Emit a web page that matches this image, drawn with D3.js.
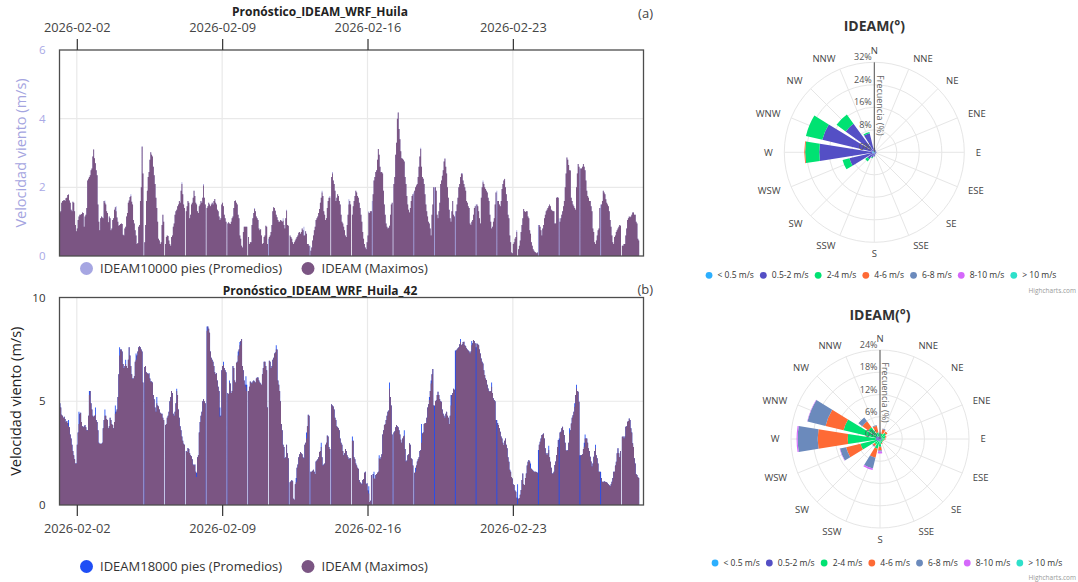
<!DOCTYPE html>
<html><head><meta charset="utf-8">
<script src="https://cdn.jsdelivr.net/npm/d3@7/dist/d3.min.js"></script>
<style>
html,body{margin:0;padding:0;background:#fff;}
svg{display:block;font-family:"Open Sans",sans-serif;}
</style></head><body>
<svg id="chart" width="1078" height="582"></svg>
<script>
// ---------------- DATA ----------------
// hourly values from 2026-02-01 04:00, one row per day (24 h), null = missing hour
const tickLabels = ["2026-02-02","2026-02-09","2026-02-16","2026-02-23"];
const seriesNamesA = ["IDEAM10000 pies (Promedios)","IDEAM (Maximos)"];
const seriesNamesB = ["IDEAM18000 pies (Promedios)","IDEAM (Maximos)"];
const titleA = "Pronóstico_IDEAM_WRF_Huila";
const titleB = "Pronóstico_IDEAM_WRF_Huila_42";

const maxA = [
[1.27,1.3,1.55,1.6,1.62,1.63,1.6,1.68,1.7,1.78,1.79,1.62,1.55,1.35,1.3,1.58,1.55,1.3,0.9,0.72,0.8,1.05,1.15,1.2],
[1.2,1.22,1.27,1.25,0.85,1.15,1.2,1.4,2.2,2.25,2.3,2.35,2.5,2.55,2.9,3.1,2.85,2.7,2.5,2.35,1.5,1.0,0.75,1.1],
[1.15,1.12,1.1,1.6,1.55,1.5,1.3,1.25,0.98,1.15,1.1,0.75,0.8,1.05,1.1,1.35,1.42,1.3,1.12,1.0,0.88,0.9,0.93,0.95],
[0.93,0.62,0.6,0.8,0.85,1.15,1.25,1.55,1.62,1.72,1.75,1.58,1.5,1.05,0.95,0.75,0.6,0.35,0.38,0.85,0.9,1.6,2.0,3.18],
[2.4,null,0.4,0.9,1.6,1.9,2.3,2.45,2.8,3.02,2.95,2.9,2.6,2.35,2.1,1.7,1.4,1.0,0.5,0.45,0.35,0.4,0.9,1.2],
[1.0,null,0.35,0.55,0.6,0.58,0.45,0.35,0.3,0.55,0.6,0.85,0.95,1.2,1.3,1.35,1.45,1.5,1.6,1.55,1.9,2.1,1.8,1.5],
[1.4,null,1.3,1.45,1.6,1.55,1.1,1.2,1.5,1.55,1.7,1.9,1.75,1.55,1.5,1.3,1.25,1.45,1.5,1.6,1.55,1.7,2.05,1.7],
[1.5,null,1.4,1.45,1.55,1.5,1.45,1.5,1.55,1.5,1.6,1.66,1.55,1.5,1.35,1.3,1.15,1.05,1.1,1.5,1.55,1.45,1.2,1.1],
[1.0,null,0.95,0.98,0.95,0.93,1.0,1.1,1.15,1.4,1.6,1.62,1.55,1.5,1.2,1.1,0.6,0.5,0.3,0.25,0.7,0.85,0.85,0.85],
[0.85,null,0.55,0.35,0.4,0.4,0.9,1.1,1.25,1.37,1.3,1.15,1.1,1.05,0.8,0.75,0.78,0.6,0.35,0.38,0.55,0.6,0.88,0.85],
[0.35,null,0.55,0.6,0.7,0.9,1.3,1.42,1.4,1.32,1.2,1.13,1.05,1.0,1.0,1.05,1.03,1.0,1.03,0.9,0.8,1.1,1.32,0.9],
[0.88,null,0.6,0.55,0.5,0.4,0.35,0.4,0.45,0.5,0.55,0.6,0.68,0.7,0.65,0.7,0.8,0.75,0.6,0.6,0.72,0.65,0.35,0.35],
[0.3,null,0.15,0.25,0.45,0.6,0.75,0.85,1.05,1.1,1.15,1.25,1.37,1.55,1.7,1.85,1.75,1.3,1.2,1.05,1.1,1.4,1.6,1.7],
[1.7,null,2.3,2.4,2.2,2.1,1.9,1.6,1.7,1.8,1.75,1.6,1.5,1.2,1.0,0.95,0.85,0.75,0.6,0.55,0.9,1.2,1.5,1.6],
[1.5,null,1.2,1.45,1.6,1.75,1.9,1.85,1.75,1.7,1.55,1.4,1.2,1.0,0.7,0.5,0.35,0.25,0.2,0.4,0.6,1.27,1.25,1.3],
[1.3,null,1.8,2.2,2.3,2.45,2.5,2.8,3.12,2.95,2.6,2.44,2.45,2.4,1.9,1.5,1.2,0.95,0.85,0.8,0.82,0.88,1.2,1.5],
[1.55,null,2.1,2.3,2.95,3.3,4.0,4.18,3.7,3.4,3.05,2.85,2.83,2.8,2.75,2.3,2.1,1.75,1.5,1.35,1.27,1.4,1.6,1.75],
[1.8,null,1.9,2.0,2.05,2.1,2.3,2.6,2.9,3.12,2.6,2.3,2.25,2.1,1.8,1.5,1.3,1.15,1.0,0.95,0.8,0.6,1.2,1.5],
[2.0,null,2.0,1.9,1.2,1.1,1.3,1.55,2.1,2.2,2.34,2.5,2.75,2.83,2.6,2.4,2.0,1.7,1.35,1.1,1.0,1.3,1.6,1.2],
[1.15,null,1.3,1.5,1.7,2.0,2.1,2.3,2.4,2.38,2.2,2.1,2.0,1.9,1.6,1.55,1.45,1.4,0.95,0.9,1.0,1.05,1.2,1.4],
[1.45,null,1.5,1.45,1.3,1.1,0.95,1.7,2.0,2.15,2.1,2.0,1.95,1.9,1.85,1.7,1.6,1.2,1.0,0.8,0.85,1.0,1.1,1.5],
[1.85,null,1.6,1.6,1.5,1.45,1.6,1.95,2.1,2.2,2.24,2.0,1.8,1.6,1.2,1.1,0.6,0.4,0.1,0.08,0.35,0.4,0.5,0.55],
[0.7,null,0.2,0.3,0.45,0.7,0.9,1.1,1.37,1.3,1.28,1.3,1.3,1.15,1.1,0.75,0.65,0.4,0.3,0.2,0.15,0.12,0.1,0.08],
[0.1,null,0.9,0.85,0.75,0.6,0.8,0.9,1.1,1.2,1.3,1.35,1.4,1.45,1.5,1.45,1.35,1.32,1.3,1.3,0.95,0.95,1.7,1.71],
[1.7,null,1.0,1.1,1.2,1.3,1.45,1.6,2.0,2.4,2.87,2.8,2.65,2.5,2.49,1.7,1.6,1.5,1.45,1.4,1.35,2.0,2.4,2.68],
[2.6,null,2.55,2.55,2.6,2.68,2.6,2.5,2.2,1.9,1.75,1.7,1.6,1.6,1.45,1.3,0.8,0.7,0.4,0.35,0.45,0.6,0.75,0.8],
[1.4,null,1.5,1.6,1.9,1.85,1.8,1.65,1.55,1.5,1.45,1.3,1.05,0.85,0.6,0.4,0.35,0.55,0.6,0.7,0.75,0.8,0.85,0.9],
[0.88,null,0.3,0.3,0.35,0.35,0.6,0.8,1.05,1.1,1.15,1.13,1.15,1.2,1.27,1.27,1.2,1.2,1.0,0.95,0.5,0.45]
];
const promA = [
[1.27,1.3,1.55,1.6,1.62,1.63,1.6,1.68,1.7,1.78,1.79,1.62,1.55,1.35,1.3,1.58,1.55,1.3,0.9,0.72,0.8,1.05,1.15,1.2],
[1.2,1.22,1.27,1.25,0.85,1.15,1.2,1.4,2.2,2.25,2.3,2.35,2.5,2.55,2.9,3.1,2.85,2.7,2.5,2.35,1.5,1.0,0.75,1.1],
[1.15,1.12,1.1,1.6,1.62,1.5,1.3,1.25,0.98,1.15,1.1,0.75,0.8,1.05,1.1,1.35,1.42,1.45,1.12,1.0,0.88,0.9,0.93,0.95],
[0.93,0.62,0.6,0.8,0.85,1.15,1.25,1.55,1.62,1.72,1.8,1.58,1.5,1.05,0.95,0.75,0.6,0.35,0.38,0.85,0.9,1.6,2.0,3.2],
[2.4,null,0.4,0.9,1.6,1.9,2.3,2.45,2.8,3.02,2.95,2.9,2.6,2.35,2.1,1.7,1.4,1.0,0.5,0.45,0.35,0.4,0.9,1.2],
[1.0,null,0.35,0.55,0.6,0.58,0.45,0.35,0.3,0.55,0.6,0.85,0.95,1.2,1.3,1.35,1.45,1.5,1.6,1.55,1.9,2.15,1.8,1.5],
[1.4,null,1.3,1.45,1.6,1.55,1.1,1.2,1.5,1.55,1.7,1.9,1.75,1.55,1.5,1.3,1.25,1.45,1.5,1.6,1.55,1.7,2.1,1.7],
[1.5,null,1.4,1.45,1.55,1.5,1.45,1.5,1.55,1.5,1.6,1.66,1.55,1.5,1.35,1.3,1.15,1.05,1.1,1.5,1.55,1.45,1.2,1.1],
[1.0,null,0.95,0.98,0.95,0.93,1.0,1.1,1.15,1.4,1.6,1.62,1.55,1.5,1.2,1.1,0.6,0.5,0.3,0.25,0.7,0.85,0.85,0.85],
[0.85,null,0.55,0.35,0.4,0.4,0.9,1.1,1.25,1.4,1.3,1.15,1.1,1.05,0.8,0.75,0.78,0.6,0.35,0.38,0.55,0.6,0.88,0.85],
[0.35,0.5,0.55,0.6,0.7,0.9,1.3,1.42,1.4,1.32,1.2,1.13,1.05,1.0,1.0,1.05,1.03,1.0,1.1,0.9,0.8,1.1,1.35,0.9],
[0.88,null,0.6,0.55,0.5,0.4,0.35,0.4,0.45,0.5,0.55,0.6,0.68,0.7,0.65,0.7,0.8,0.75,0.85,0.6,0.72,0.65,0.35,0.35],
[0.3,0.3,0.15,0.25,0.45,0.6,0.75,0.85,1.05,1.1,1.15,1.25,1.37,1.55,1.7,1.9,1.75,1.3,1.2,1.05,1.1,1.4,1.6,1.7],
[1.75,null,2.3,2.45,2.2,2.1,1.9,1.6,1.7,1.8,1.75,1.6,1.5,1.2,1.0,0.95,0.85,0.75,0.6,0.55,0.9,1.2,1.65,1.6],
[1.5,null,1.2,1.45,1.6,1.75,1.9,1.85,1.75,1.7,1.55,1.4,1.2,1.0,0.7,0.5,0.35,0.25,0.2,0.4,0.6,1.3,1.25,1.3],
[1.3,1.6,1.8,2.2,2.3,2.45,2.5,2.8,3.12,2.95,2.6,2.44,2.45,2.4,1.9,1.5,1.2,0.95,0.85,0.8,0.82,0.88,1.2,1.5],
[1.55,null,2.1,2.3,2.95,3.3,4.0,4.18,3.7,3.4,3.05,2.85,2.83,2.8,2.75,2.3,2.1,1.75,1.5,1.35,1.27,1.4,1.6,1.75],
[1.8,1.85,1.9,2.0,2.05,2.1,2.3,2.6,2.9,3.15,2.6,2.3,2.25,2.1,1.8,1.5,1.3,1.15,1.0,0.95,0.8,0.6,1.2,1.5],
[2.0,2.0,2.0,1.9,1.2,1.1,1.3,1.55,2.1,2.2,2.34,2.5,2.75,2.85,2.6,2.4,2.0,1.7,1.35,1.1,1.0,1.3,1.6,1.2],
[1.15,1.3,1.3,1.5,1.7,2.0,2.1,2.3,2.4,2.42,2.2,2.1,2.0,1.9,1.6,1.55,1.45,1.4,0.95,0.9,1.0,1.05,1.2,1.4],
[1.45,1.5,1.5,1.45,1.3,1.1,0.95,1.7,2.0,2.2,2.1,2.0,1.95,1.9,1.85,1.7,1.6,1.2,1.0,0.8,0.85,1.0,1.1,1.5],
[1.85,1.9,1.6,1.6,1.5,1.45,1.6,1.95,2.1,2.2,2.25,2.0,1.8,1.6,1.2,1.1,0.6,0.4,0.1,0.08,0.35,0.4,0.5,0.55],
[0.75,null,0.2,0.3,0.45,0.7,0.9,1.1,1.37,1.3,1.28,1.3,1.3,1.15,1.1,0.75,0.65,0.4,0.3,0.2,0.15,0.12,0.1,0.08],
[0.1,0.9,0.9,0.85,0.75,0.6,0.8,0.9,1.1,1.2,1.3,1.35,1.4,1.45,1.5,1.45,1.35,1.32,1.3,1.3,0.95,0.95,1.7,1.71],
[1.7,1.1,1.0,1.1,1.2,1.3,1.45,1.6,2.0,2.4,2.87,2.8,2.65,2.5,2.49,1.7,1.6,1.5,1.45,1.4,1.35,2.0,2.4,2.68],
[2.6,2.55,2.55,2.55,2.6,2.68,2.6,2.5,2.2,1.9,1.75,1.7,1.6,1.6,1.45,1.3,0.8,0.7,0.4,0.35,0.45,0.6,0.75,0.8],
[1.4,1.5,1.5,1.6,1.9,1.85,1.8,1.65,1.55,1.5,1.45,1.3,1.05,0.85,0.6,0.4,0.35,0.55,0.6,0.7,0.75,0.8,0.85,0.9],
[0.88,null,0.3,0.3,0.35,0.35,0.6,0.8,1.05,1.1,1.15,1.13,1.15,1.2,1.27,1.27,1.2,1.2,1.0,0.95,0.5,0.45]
];
const maxB = [
[4.9,4.7,4.35,4.3,4.2,4.25,4.15,4.0,4.05,3.95,3.8,3.75,3.4,3.2,2.9,2.6,2.4,2.2,2.0,2.0,2.9,3.5,3.9,4.4],
[4.45,4.0,3.8,3.75,3.8,3.85,3.75,3.6,3.6,4.3,5.3,5.5,4.9,4.6,4.3,4.25,4.3,4.35,4.1,4.0,3.6,3.0,2.95,2.95],
[2.95,3.0,3.7,4.1,4.3,4.3,4.15,4.1,3.7,3.8,4.2,4.1,3.9,3.85,3.7,4.0,4.4,4.5,4.6,5.2,6.3,7.2,7.5,7.5],
[7.4,6.8,6.6,6.7,6.8,6.7,6.6,7.0,7.6,7.2,6.7,6.3,6.1,6.1,6.2,6.9,7.0,7.2,7.4,7.6,7.65,7.6,7.5,7.4],
[5.9,null,6.65,6.7,6.4,6.35,6.3,6.35,6.1,5.95,5.95,5.9,5.3,5.1,4.7,4.5,4.9,4.8,4.75,4.6,4.45,4.4,4.4,4.2],
[4.1,null,3.85,3.9,4.2,4.3,4.5,5.0,5.2,5.5,5.4,4.4,4.3,4.5,4.9,5.5,5.3,4.6,4.2,3.8,3.6,3.3,3.1,2.95],
[2.9,null,2.6,2.55,2.75,2.7,2.5,2.4,2.35,2.2,1.95,1.9,1.95,1.6,1.35,2.3,2.4,3.5,4.0,4.3,4.5,5.0,5.1,5.0],
[4.9,null,8.4,8.6,8.5,8.3,7.4,7.1,7.0,6.9,6.7,6.4,6.3,6.35,6.0,5.7,5.5,4.25,4.3,6.5,6.7,6.75,6.6,6.5],
[6.4,null,5.4,5.35,5.9,5.85,5.4,5.5,6.7,6.6,6.0,5.9,6.85,6.9,7.2,7.5,7.7,7.9,8.0,6.7,6.5,6.0,5.8,5.7],
[5.5,null,5.5,5.7,5.95,5.9,5.85,5.95,6.0,5.95,5.9,6.1,6.15,6.15,6.0,5.9,5.85,5.8,6.3,6.6,6.9,6.9,6.7,6.5],
[4.7,null,6.95,6.9,6.6,6.7,7.0,7.1,7.3,7.35,7.5,7.5,6.0,5.8,5.5,5.0,3.9,3.6,2.9,2.8,2.25,2.3,2.9,2.5],
[2.25,null,1.1,1.15,1.2,1.15,0.3,0.25,1.0,1.1,1.8,1.95,2.3,2.45,2.55,2.5,2.45,2.3,2.25,2.9,3.0,3.2,3.8,4.35],
[4.3,null,1.6,1.6,1.65,1.7,1.6,1.5,2.1,2.15,2.2,2.3,2.55,2.6,2.8,2.3,1.9,1.95,2.0,2.9,3.0,3.35,3.3,2.8],
[2.7,null,4.85,4.8,4.75,4.6,4.2,4.1,3.8,3.75,3.7,3.6,3.2,3.0,2.9,2.6,2.4,2.5,2.7,2.6,2.4,2.3,2.2,2.25],
[2.25,null,3.1,3.1,2.3,2.2,2.0,1.9,1.8,1.75,1.2,1.1,1.05,1.0,1.2,1.25,1.55,1.6,1.0,1.05,0.7,0.55,0.15,0.2],
[1.45,null,1.5,1.3,1.25,1.45,1.5,1.55,1.6,2.25,2.2,2.3,2.45,3.4,3.6,3.85,3.9,4.1,4.3,4.5,4.55,5.6,5.2,4.8],
[3.4,null,3.5,3.55,3.75,3.85,3.8,3.75,3.6,3.4,3.15,3.0,3.2,3.3,3.35,2.7,2.1,2.15,2.4,2.45,2.97,2.9,2.25,2.2],
[1.9,null,1.55,1.6,1.9,2.1,2.2,2.3,2.6,2.65,3.0,3.45,3.5,3.9,3.95,3.95,4.2,4.7,4.85,5.06,5.5,5.86,6.3,6.55],
[4.8,null,5.0,5.05,5.3,5.46,5.3,5.1,5.0,4.98,4.6,4.4,4.3,4.2,4.4,4.5,4.3,4.2,3.9,4.3,4.8,5.3,5.4,5.6],
[5.55,null,7.45,7.5,7.55,7.6,7.75,7.87,7.7,7.75,7.85,7.87,7.7,7.65,7.55,7.5,7.45,7.4,7.3,7.4,7.7,7.8,7.95,7.9],
[7.8,null,7.78,7.75,7.7,7.5,7.3,7.06,6.9,6.82,6.5,6.26,6.1,6.02,5.8,5.62,5.5,5.46,5.5,5.7,5.4,5.14,5.06,5.0],
[4.1,null,3.95,3.85,3.7,3.53,3.3,3.21,3.0,2.89,3.1,3.21,2.9,2.73,2.3,2.09,1.7,1.6,1.35,1.28,1.0,0.96,0.7,0.64],
[0.35,null,0.3,0.32,0.5,0.72,1.2,1.52,1.0,0.96,1.3,1.52,1.9,2.09,2.17,2.1,1.77,1.75,1.7,1.65,1.6,1.6,1.6,1.58],
[1.55,null,2.9,3.05,3.2,3.37,3.4,3.45,3.2,2.73,2.5,2.41,2.5,2.65,2.3,2.09,1.8,1.52,1.52,1.6,1.93,2.1,2.41,2.8],
[3.13,null,3.5,3.53,3.7,3.77,3.6,3.37,3.0,2.65,2.6,2.65,3.0,3.45,3.6,3.93,4.2,4.33,4.5,4.73,5.3,5.62,5.5,5.46],
[4.98,null,2.4,2.41,2.45,2.7,2.81,3.2,3.21,3.2,3.0,2.73,2.6,2.33,2.1,1.85,2.0,2.33,2.6,2.73,2.4,2.25,2.0,1.6],
[1.6,null,1.3,1.12,1.1,1.15,1.12,1.1,1.1,1.05,1.0,0.95,0.9,1.0,1.12,1.3,1.6,1.6,1.9,2.09,2.5,2.73,2.5,2.3],
[2.6,null,3.29,3.3,3.2,3.3,3.77,3.8,4.01,4.05,4.17,4.1,3.7,3.5,2.97,2.8,2.25,2.0,1.5,1.45,1.35,1.3]
];
const promB = [
[4.9,4.7,4.35,4.3,4.2,4.25,4.15,4.0,4.05,3.95,4.1,3.75,3.4,3.2,2.9,2.6,2.4,2.2,2.0,2.0,2.9,3.5,4.5,4.4],
[4.45,4.0,3.8,3.75,3.8,3.85,3.75,3.6,3.6,4.3,5.5,5.5,4.9,4.6,4.3,4.25,4.3,4.7,4.1,4.0,3.6,3.0,2.95,2.95],
[2.95,3.0,3.7,4.1,4.6,4.3,4.15,4.1,3.7,3.8,4.2,4.1,3.9,3.85,3.7,4.0,4.8,4.5,4.6,5.2,6.3,7.6,7.5,7.5],
[7.4,6.8,6.6,6.7,7.0,6.7,6.6,7.0,7.6,7.2,6.7,6.3,6.1,6.1,6.2,6.9,7.3,7.2,7.4,7.6,7.65,7.6,7.5,7.4],
[5.9,null,6.65,6.7,6.4,6.35,6.3,6.35,6.1,5.95,5.95,5.9,5.3,5.1,4.7,4.5,5.2,4.8,4.75,4.6,4.45,4.4,4.4,4.2],
[4.1,null,3.85,3.9,4.2,4.3,4.5,5.0,5.2,5.5,5.4,4.4,4.3,4.5,4.9,5.6,5.3,4.6,4.2,3.8,3.6,3.3,3.1,2.95],
[2.9,null,2.6,2.55,2.75,2.7,2.5,2.4,2.35,2.2,1.95,1.9,1.95,1.6,1.55,2.3,2.4,3.5,4.0,4.3,4.5,5.0,5.1,5.0],
[4.9,null,8.6,8.6,8.5,8.3,7.4,7.1,7.0,6.9,6.7,6.4,6.3,6.35,6.0,5.7,5.5,4.7,4.3,6.5,6.7,6.9,6.6,6.5],
[6.4,null,5.4,5.35,6.0,5.85,5.4,5.5,6.7,6.6,6.0,5.9,6.85,6.9,7.4,7.5,7.85,7.9,8.0,6.7,6.5,6.0,5.8,6.2],
[5.8,null,5.5,5.7,5.95,5.9,5.85,5.95,6.0,5.95,5.9,6.1,6.15,6.15,6.0,5.9,5.85,5.8,6.3,6.6,6.9,6.9,6.7,6.5],
[4.7,null,6.95,6.9,6.6,6.7,7.0,7.1,7.3,7.35,7.7,7.5,6.0,5.8,5.5,5.0,3.9,3.6,2.9,2.8,2.25,2.3,2.9,2.5],
[2.25,null,1.1,1.15,1.2,1.15,0.3,0.25,1.0,1.3,1.8,1.95,2.3,2.45,2.55,2.5,2.45,2.3,2.25,2.9,3.0,3.5,3.8,4.35],
[4.3,null,1.6,1.6,1.65,1.7,1.6,1.5,2.1,2.15,2.2,2.3,2.55,2.6,3.0,2.3,1.9,1.95,2.0,2.9,3.0,3.35,3.3,2.8],
[2.7,null,4.85,4.8,4.75,4.6,4.2,4.1,3.8,3.75,3.7,3.6,3.2,3.0,2.9,2.6,2.4,2.5,2.7,2.6,2.4,2.3,2.2,2.25],
[2.25,null,3.3,3.1,2.3,2.2,2.0,1.9,1.8,1.75,1.2,1.1,1.05,1.0,1.2,1.25,1.55,1.6,1.0,1.05,0.7,0.9,0.15,0.2],
[1.45,null,1.5,1.6,1.25,1.45,1.5,1.55,1.6,2.4,2.2,2.3,2.45,3.4,3.6,3.85,3.9,4.1,4.3,4.5,4.55,5.9,5.2,4.8],
[3.4,null,3.5,3.55,3.75,3.85,3.8,3.75,3.6,3.4,3.15,3.0,3.2,3.3,3.6,2.7,2.1,2.15,2.4,2.45,2.97,2.9,2.25,2.2],
[1.9,null,1.55,1.8,1.9,2.1,2.2,2.3,2.6,2.65,3.9,3.45,3.5,3.9,3.95,3.95,4.2,4.7,4.85,5.2,5.5,6.0,6.3,6.55],
[4.8,4.8,5.0,5.05,5.3,5.46,5.3,5.1,5.0,4.98,4.6,4.4,4.3,4.2,4.4,4.5,4.3,4.2,3.9,4.3,5.3,5.3,5.4,5.6],
[5.55,7.45,7.45,7.5,7.55,7.6,7.75,8.0,7.7,7.75,7.85,7.87,7.7,7.65,7.55,7.5,7.45,7.4,7.3,7.4,7.9,7.8,7.95,7.9],
[7.8,7.6,7.78,7.75,7.7,7.5,7.3,7.06,6.9,6.82,6.5,6.26,6.1,6.02,5.8,5.62,5.5,5.46,5.5,5.9,5.4,5.14,5.06,5.0],
[4.1,4.1,3.95,3.85,3.7,3.53,3.3,3.21,3.0,2.89,3.1,3.21,2.9,2.73,2.3,2.09,1.7,1.6,1.35,1.28,1.0,0.96,0.7,0.64],
[0.35,1.0,0.3,0.32,0.5,0.72,1.2,1.52,1.0,0.96,1.3,1.52,1.9,2.09,2.17,2.1,2.0,1.75,1.7,1.65,1.6,1.6,1.6,1.58],
[1.55,2.65,2.9,3.05,3.2,3.37,3.4,3.45,3.2,2.73,2.5,2.41,2.5,2.85,2.3,2.09,1.8,1.52,1.52,1.6,1.93,2.1,2.41,2.8],
[3.13,3.2,3.5,3.53,3.7,3.77,3.6,3.37,3.0,2.65,2.6,2.65,3.0,3.7,3.6,3.93,4.2,4.33,4.5,4.9,5.3,5.8,5.5,5.46],
[4.98,2.4,2.4,2.41,2.45,2.7,3.0,3.4,3.21,3.2,3.0,2.73,2.6,2.33,2.1,1.85,2.0,2.33,2.6,2.9,2.4,2.25,2.0,1.6],
[1.6,1.6,1.3,1.12,1.1,1.15,1.12,1.1,1.1,1.05,1.0,0.95,0.9,1.0,1.12,1.3,1.6,1.6,1.9,2.09,2.5,2.73,2.5,2.3],
[2.6,null,3.29,3.3,3.2,3.3,3.77,3.8,4.01,4.05,4.17,4.1,3.7,3.5,2.97,2.8,2.25,2.0,1.5,1.45,1.35,1.3]
];

// Wind roses: frequency (%) per direction, one array per speed bin
const directions = ["N","NNE","NE","ENE","E","ESE","SE","SSE","S","SSW","SW","WSW","W","WNW","NW","NNW"];
const speedBins = ["< 0.5 m/s","0.5-2 m/s","2-4 m/s","4-6 m/s","6-8 m/s","8-10 m/s","> 10 m/s"];
const roseTitle = "IDEAM(°)";
const roseA = [
 [0.4,0.3,0.3,0.3,0.3,0.3,0.3,0.3,0.4,0.4,0.5,0.6,0.8,0.8,0.6,0.5],
 [1.2,0.6,0.5,0.4,0.5,0.4,0.4,0.5,1.0,1.5,2.5,8.5,18.8,18.2,12.0,6.5],
 [0,0,0,0,0,0,0,0,0.1,0.3,1.0,2.5,5.0,6.0,4.0,0.4],
 [0,0,0,0,0,0,0,0,0,0,0,0,0.3,0,0,0],
 [0,0,0,0,0,0,0,0,0,0,0,0,0,0,0,0],
 [0,0,0,0,0,0,0,0,0,0,0,0,0,0,0,0],
 [0,0,0,0,0,0,0,0,0,0,0,0,0,0,0,0]
];
const roseATicks = [0,8,16,24,32];
const roseB = [
 [0.1,0.1,0.1,0.1,0.1,0.1,0.1,0.1,0.1,0.1,0.1,0.1,0.1,0.1,0.1,0.1],
 [0.6,0.4,0.4,0.4,0.4,0.3,0.3,0.3,0.5,0.6,0.5,0.8,1.0,1.0,0.8,0.6],
 [0.8,1.0,1.5,1.0,0.8,0.6,0.5,0.8,1.5,2.0,1.2,4.5,7.6,9.0,3.0,1.2],
 [0.2,1.2,0.5,0.3,0.2,0.1,0.1,0.2,1.0,2.5,0.6,4.0,8.1,5.0,2.0,1.8],
 [0,0.2,0,0,0,0,0,0,0.3,3.0,0.2,1.7,5.4,5.0,1.3,0.2],
 [0,0,0,0,0,0,0,0,0.5,0.4,0,0.1,0.3,0.1,0,0],
 [0,0,0,0,0,0,0,0,0,0,0,0,0,0,0,0]
];
const roseBTicks = [0,6,12,18,24];

// ---------------- DRAWING ----------------
const svg = d3.select("#chart");
const HOUR = 3600e3;
const T0 = Date.UTC(2026,1,1,4);
const x = d3.scaleUtc().domain([new Date(T0), new Date(T0 + 675*HOUR)]).range([59.5, 643.5]);
const tickDates = tickLabels.map(s => new Date(s + "T00:00:00Z"));
const maxColor = "#7b5583";

function stepPoints(vals){
  const pts = [];
  vals.forEach((v,i) => {
    if (v == null) pts.push({h:i, v:null});
    else { pts.push({h:i, v}); pts.push({h:i+1, v}); }
  });
  return pts;
}

function panel(cfg){
  const g = svg.append("g");
  const y = d3.scaleLinear().domain([0, cfg.ymax]).range([cfg.bottom, cfg.top]);
  const [x0, x1] = x.range();
  g.selectAll(".hg").data(cfg.yticks.filter(v => v > 0 && v < cfg.ymax)).join("line")
    .attr("x1", x0).attr("x2", x1).attr("y1", d => y(d)).attr("y2", d => y(d))
    .attr("stroke", "#e9e9e9").attr("stroke-width", 1.2);
  g.selectAll(".vg").data(tickDates).join("line")
    .attr("x1", d => x(d)).attr("x2", d => x(d)).attr("y1", cfg.top).attr("y2", cfg.bottom)
    .attr("stroke", "#e9e9e9").attr("stroke-width", 1.2);
  const area = d3.area().defined(d => d.v != null)
    .x(d => x(new Date(T0 + d.h*HOUR))).y0(y(0)).y1(d => y(d.v));
  g.append("path").attr("d", area(stepPoints(cfg.prom.flat()))).attr("fill", cfg.promColor);
  g.append("path").attr("d", area(stepPoints(cfg.max.flat()))).attr("fill", maxColor);
  g.append("rect").attr("x", x0).attr("y", cfg.top).attr("width", x1 - x0).attr("height", cfg.bottom - cfg.top)
    .attr("fill", "none").attr("stroke", "#4d4d4d").attr("stroke-width", 1.3);
  g.selectAll(".yl").data(cfg.yticks).join("text")
    .attr("x", 45.5).attr("y", d => y(d)).attr("dy", "0.35em").attr("text-anchor", "end")
    .attr("font-size", 11.5).attr("fill", cfg.yTickColor).text(d => d);
  g.append("text").attr("transform", `translate(${cfg.yTitleX},${(cfg.top + cfg.bottom)/2}) rotate(-90)`)
    .attr("text-anchor", "middle").attr("dy", "0.35em").attr("font-size", 14.5)
    .attr("fill", cfg.yTitleColor).text("Velocidad viento (m/s)");
  const axis = (cfg.xTop ? d3.axisTop(x) : d3.axisBottom(x))
    .tickValues(tickDates).tickFormat((d,i) => tickLabels[i]).tickSize(11).tickPadding(cfg.xTop ? 7 : 8);
  const ax = g.append("g").attr("transform", `translate(0,${cfg.xTop ? cfg.top : cfg.bottom})`).call(axis);
  ax.select(".domain").remove();
  ax.selectAll(".tick line").attr("stroke", "#333").attr("stroke-width", 1.2);
  ax.selectAll(".tick text").attr("font-size", 12.8).attr("fill", "#444").attr("font-family", "Open Sans, sans-serif");
  g.append("text").attr("x", 320).attr("y", cfg.titleY).attr("text-anchor", "middle")
    .attr("font-size", 12).attr("font-weight", "bold").attr("fill", "#222").text(cfg.title);
  g.append("text").attr("x", 653).attr("y", cfg.letterY).attr("text-anchor", "end")
    .attr("font-size", 13).attr("fill", "#444").text(cfg.letter);
  const lg = g.append("g").attr("transform", `translate(0,${cfg.legendY})`);
  const items = [{name: cfg.names[0], color: cfg.promColor, x: 86.5}, {name: cfg.names[1], color: maxColor, x: 308}];
  lg.selectAll("circle").data(items).join("circle").attr("cx", d => d.x).attr("cy", 0).attr("r", 6.5).attr("fill", d => d.color);
  lg.selectAll("text").data(items).join("text").attr("x", d => d.x + 13.5).attr("y", 0).attr("dy", "0.35em")
    .attr("font-size", 13).attr("fill", "#333").text(d => d.name);
}

panel({top: 50, bottom: 256, ymax: 6, yticks: [0,2,4,6], max: maxA, prom: promA, promColor: "#a6a6e2",
  yTickColor: "#a9a9e6", yTitleColor: "#a4a4e0", yTitleX: 21, xTop: true, title: titleA, titleY: 16,
  letterY: 17.5, letter: "(a)", legendY: 268.5, names: seriesNamesA});
panel({top: 297.5, bottom: 505, ymax: 10, yticks: [0,5,10], max: maxB, prom: promB, promColor: "#1f4ef5",
  yTickColor: "#333", yTitleColor: "#222", yTitleX: 16, xTop: false, title: titleB, titleY: 295,
  letterY: 294, letter: "(b)", legendY: 566.5, names: seriesNamesB});

// ---------------- WIND ROSES ----------------
const binColors = ["#2caffe","#544fc5","#00e272","#fe6a35","#6b8abc","#d568fb","#2ee0ca"];
function rose(cfg){
  const g = svg.append("g").attr("transform", `translate(${cfg.cx},${cfg.cy})`);
  const r = d3.scaleLinear().domain([0, d3.max(cfg.ticks)]).range([0, cfg.R]);
  const step = 360 / directions.length;
  g.selectAll(".ring").data(cfg.ticks.filter(t => t > 0)).join("circle")
    .attr("r", d => r(d)).attr("fill", "none").attr("stroke", "#e6e6e6");
  g.selectAll(".spoke").data(directions).join("line")
    .attr("x1", 0).attr("y1", 0)
    .attr("x2", (d,i) => cfg.R * Math.sin(i*step*Math.PI/180))
    .attr("y2", (d,i) => -cfg.R * Math.cos(i*step*Math.PI/180))
    .attr("stroke", "#e6e6e6");
  const arc = d3.arc();
  const wedges = [];
  directions.forEach((dname, i) => {
    let cum = 0;
    cfg.data.forEach((bin, b) => {
      const v = bin[i];
      if (v > 0) wedges.push({i, b, r0: cum, r1: cum + v});
      cum += v;
    });
  });
  const half = step * 0.8 / 2 * Math.PI / 180;
  g.selectAll(".w").data(wedges).join("path")
    .attr("d", d => arc({innerRadius: r(d.r0), outerRadius: r(d.r1),
      startAngle: d.i*step*Math.PI/180 - half, endAngle: d.i*step*Math.PI/180 + half}))
    .attr("fill", d => binColors[d.b]);
  g.append("line").attr("x1", 0).attr("y1", 0).attr("x2", 0).attr("y2", -cfg.R).attr("stroke", "#555").attr("stroke-width", 1);
  g.selectAll(".rl").data(cfg.ticks).join("text")
    .attr("x", -2.5).attr("y", d => -r(d) - 2).attr("text-anchor", "end")
    .attr("font-size", 9).attr("fill", "#555").text(d => d + "%");
  g.append("text").attr("transform", `translate(${5.5},${-cfg.R/2 - 2}) rotate(90)`)
    .attr("text-anchor", "middle").attr("dy", "0.35em").attr("font-size", 9).attr("fill", "#666").text("Frecuencia (%)");
  g.selectAll(".dl").data(directions).join("text")
    .attr("x", (d,i) => (cfg.R + 11.5) * Math.sin(i*step*Math.PI/180))
    .attr("y", (d,i) => -(cfg.R + 11.5) * Math.cos(i*step*Math.PI/180))
    .attr("dy", "0.35em")
    .attr("text-anchor", (d,i) => (i === 0 || i === 8) ? "middle" : (i < 8 ? "start" : "end"))
    .attr("font-size", 9.5).attr("fill", "#444").text(d => d);
  svg.append("text").attr("x", cfg.cx).attr("y", cfg.titleY).attr("text-anchor", "middle")
    .attr("font-size", 14).attr("font-weight", "bold").attr("fill", "#333").text(roseTitle);
  const lg = svg.append("g").attr("transform", `translate(0,${cfg.legendY})`);
  const its = lg.selectAll("g").data(speedBins).join("g");
  its.append("circle").attr("r", 3.4).attr("cy", 0).attr("fill", (d,i) => binColors[i]);
  its.append("text").attr("x", 8.5).attr("dy", "0.35em").attr("font-size", 8.5).attr("fill", "#333").text(d => d);
  const tw = [];
  its.select("text").each(function(){ tw.push(this.getComputedTextLength()); });
  const spacing = tw.map(w => 8.5 + w + 9.5);
  const total = d3.sum(spacing) - 9.5 + 3.4;
  let cx = cfg.legendCenter - total/2 + 3.4;
  its.attr("transform", (d,i) => { const t = `translate(${cx},0)`; cx += spacing[i]; return t; });
  svg.append("text").attr("x", 1076).attr("y", cfg.creditY).attr("text-anchor", "end")
    .attr("font-size", 6.5).attr("fill", "#999").text("Highcharts.com");
}
rose({cx: 874.3, cy: 152.3, R: 90, ticks: roseATicks, data: roseA, titleY: 31, legendY: 275.3, legendCenter: 881, creditY: 293});
rose({cx: 880, cy: 439, R: 89, ticks: roseBTicks, data: roseB, titleY: 320, legendY: 563, legendCenter: 887, creditY: 580});
</script></body></html>
